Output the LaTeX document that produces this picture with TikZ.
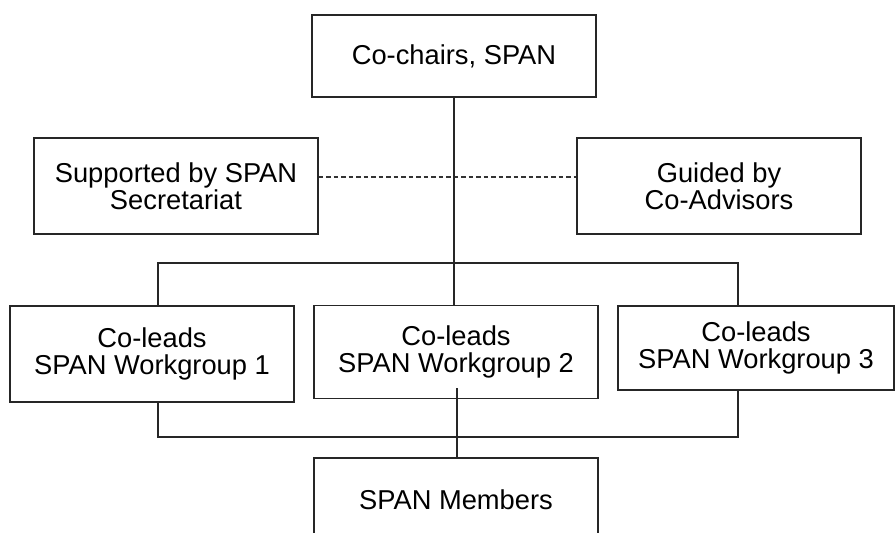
\documentclass[tikz,border=0pt]{standalone}
\usepackage{fontspec}
\setmainfont{Liberation Sans}
\begin{document}
\begin{tikzpicture}[x=1pt,y=-1pt,
  box/.style={draw=black!85, line width=1.1pt, inner sep=0pt, align=center,
    font=\fontsize{27.3}{27.3}\selectfont},
  conn/.style={draw=black!85, line width=1.1pt},
  dashline/.style={draw=black!80, line width=1.1pt, dash pattern=on 4.5pt off 3pt}]
\useasboundingbox (0,0) rectangle (895,533);
\clip (0,0) rectangle (895,533);
\node[box, minimum width=284, minimum height=82] (top) at (454,56) {Co-chairs, SPAN};
\node[box, minimum width=284, minimum height=96] (sup) at (176,186) {Supported by SPAN\\Secretariat};
\node[box, minimum width=284, minimum height=96] (guide) at (719,186) {Guided by\\Co-Advisors};
\node[box, minimum width=284, minimum height=96] (wg1) at (152,354) {Co-leads\\SPAN Workgroup 1};
\node[box, minimum width=284, minimum height=93] (wg2) at (456,352) {Co-leads\\SPAN Workgroup 2};
\node[box, minimum width=276, minimum height=84] (wg3) at (756,348) {Co-leads\\SPAN Workgroup 3};
\node[box, minimum width=284, minimum height=84] (mem) at (456,500) {SPAN Members};
\coordinate (b1) at (158,263);
\coordinate (b3) at (738,263);
\coordinate (c1) at (158,437);
\coordinate (c3) at (738,437);
\coordinate (m) at (457,388);
\draw[dashline] ([yshift=9pt]sup.east) -- ([yshift=9pt]guide.west);
\draw[conn] (top.south) -- (top.south |- wg2.north);
\draw[conn] (wg1.north -| b1) -- (b1) -- (b3) -- (wg3.north -| b3);
\draw[conn] (wg1.south -| c1) -- (c1) -- (c3) -- (wg3.south -| c3);
\draw[conn] (m) -- (m |- mem.north);
\end{tikzpicture}
\end{document}
